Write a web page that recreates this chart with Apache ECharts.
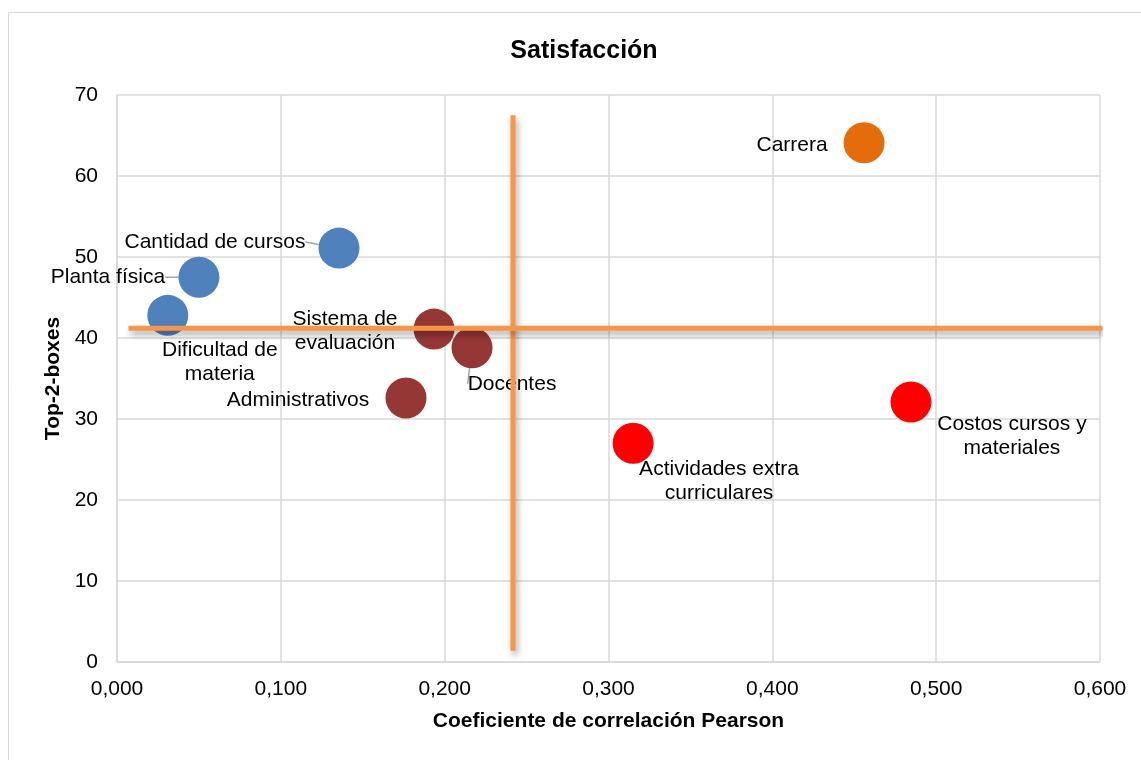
<!DOCTYPE html>
<html>
<head>
    <meta charset="UTF-8">
    <title>Satisfacción</title>
    <script type="text/javascript" src="https://cdn.jsdelivr.net/npm/echarts@6/dist/echarts.min.js"></script>
    <style type="text/css">
        html, body { margin: 0; padding: 0; background: #fff; }
        #chart { width: 1141px; height: 760px; }
    </style>
</head>
<body>
<div id="chart"></div>
<script type="text/javascript">
    // 数据
    var names = ['Cantidad de cursos', 'Planta física', 'Dificultad de\nmateria',
                 'Sistema de\nevaluación', 'Docentes', 'Administrativos',
                 'Actividades extra\ncurriculares', 'Costos cursos y\nmateriales', 'Carrera'];
    var pearson = [0.1355, 0.050, 0.031, 0.1935, 0.2167, 0.1764, 0.315, 0.4846, 0.456];
    var top2 = [51.1, 47.5, 42.8, 41.1, 38.8, 32.6, 27.0, 32.1, 64.1];
    var groups = [0, 0, 0, 1, 1, 1, 2, 2, 3];
    var xTicks = [0, 0.1, 0.2, 0.3, 0.4, 0.5, 0.6];
    var yTicks = [0, 10, 20, 30, 40, 50, 60, 70];
    // 象限分隔线
    var vLine = [[0.2417, 1.4], [0.2417, 67.5]];
    var hLine = [[0.007, 41.2], [0.6015, 41.2]];

    var groupColors = ['#4F81BD', '#953735', '#FF0000', '#E46C0A'];
    // 标签偏移（像素）和是否画引线
    var labelOffset = {
        'Cantidad de cursos': [-124, -6, true],
        'Planta física': [-91, 0, true],
        'Dificultad de\nmateria': [52, 47, false],
        'Sistema de\nevaluación': [-89, 2, false],
        'Docentes': [40, 36, true],
        'Administrativos': [-108, 2, false],
        'Actividades extra\ncurriculares': [86, 38, false],
        'Costos cursos y\nmateriales': [101, 34, false],
        'Carrera': [-72, 2, false]
    };

    var font = 'Arial, "Liberation Sans", sans-serif';

    var series = [];
    groupColors.forEach(function (color, g) {
        var items = [];
        names.forEach(function (n, i) {
            if (groups[i] !== g) return;
            items.push({
                name: n,
                value: [pearson[i], top2[i]],
                labelLine: {show: labelOffset[n][2], lineStyle: {color: '#A6A6A6', width: 1.5}}
            });
        });
        series.push({
            type: 'scatter',
            symbolSize: 41,
            itemStyle: {color: color, opacity: 1},
            data: items,
            z: 2,
            label: {
                show: true,
                position: 'inside',
                formatter: '{b}',
                color: '#000',
                fontFamily: font,
                fontSize: 21,
                lineHeight: 24,
                align: 'center'
            },
            labelLayout: function (p) {
                var o = labelOffset[p.text] || [0, 0];
                return {dx: o[0], dy: o[1]};
            }
        });
    });

    var lineStyle = {
        color: '#F79646', width: 5,
        shadowColor: 'rgba(0,0,0,0.35)', shadowBlur: 6, shadowOffsetX: 2, shadowOffsetY: 4
    };
    series.push({type: 'line', data: vLine, symbol: 'none', clip: false, z: 5, lineStyle: lineStyle, silent: true});
    series.push({type: 'line', data: hLine, symbol: 'none', clip: false, z: 5, lineStyle: lineStyle, silent: true});

    var chart = echarts.init(document.getElementById('chart'));
    chart.setOption({
        animation: false,
        textStyle: {fontFamily: font},
        title: {
            text: 'Satisfacción',
            left: 579, top: 34, textAlign: 'center',
            textStyle: {fontSize: 25, fontWeight: 'bold', color: '#000', fontFamily: font}
        },
        graphic: [{
            type: 'rect', silent: true,
            shape: {x: 8.5, y: 12.5, width: 1200, height: 800},
            style: {fill: 'none', stroke: '#D9D9D9', lineWidth: 1}
        }],
        grid: {left: 117, right: 41, top: 95, bottom: 98},
        xAxis: {
            type: 'value',
            min: xTicks[0], max: xTicks[xTicks.length - 1], interval: 0.1,
            name: 'Coeficiente de correlación Pearson',
            nameLocation: 'middle', nameGap: 49,
            nameTextStyle: {fontSize: 21, fontWeight: 'bold', color: '#000', fontFamily: font},
            axisLine: {show: true, lineStyle: {color: '#D9D9D9', width: 1.5}},
            axisTick: {show: false},
            axisLabel: {
                fontSize: 21, color: '#000', margin: 17, fontFamily: font,
                formatter: function (v) { return v.toFixed(3).replace('.', ','); }
            },
            splitLine: {show: true, lineStyle: {color: '#D9D9D9', width: 1.5}}
        },
        yAxis: {
            type: 'value',
            min: yTicks[0], max: yTicks[yTicks.length - 1], interval: 10,
            name: 'Top-2-boxes',
            nameLocation: 'middle', nameGap: 40,
            nameTextStyle: {fontSize: 21, fontWeight: 'bold', color: '#000', fontFamily: font},
            axisLine: {show: true, lineStyle: {color: '#D9D9D9', width: 1.5}},
            axisTick: {show: false},
            axisLabel: {fontSize: 21, color: '#000', margin: 19, fontFamily: font},
            splitLine: {show: true, lineStyle: {color: '#D9D9D9', width: 1.5}}
        },
        series: series
    });
</script>
</body>
</html>
